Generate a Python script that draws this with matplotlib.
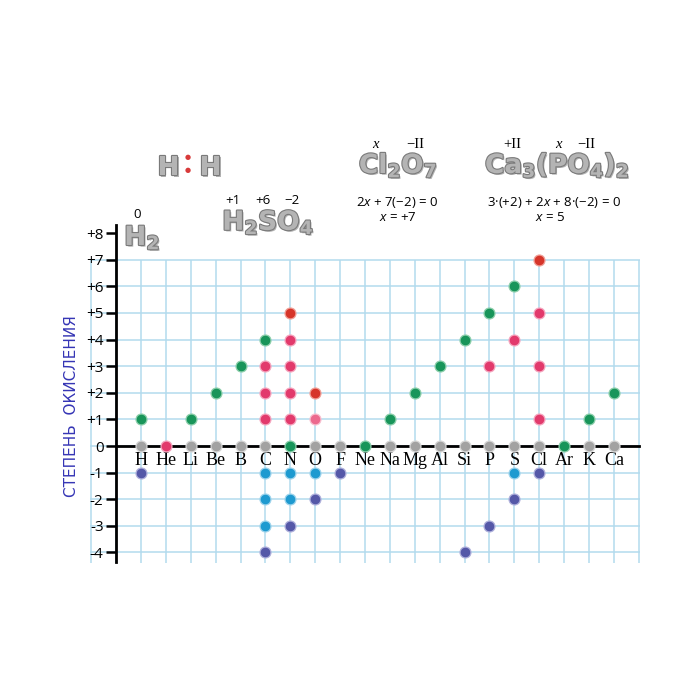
import matplotlib
matplotlib.use("Agg")
import matplotlib.pyplot as plt
import matplotlib.patheffects as pe

plt.rcParams["mathtext.fontset"] = "custom"
plt.rcParams["mathtext.rm"] = "Open Sans"
plt.rcParams["mathtext.it"] = "Open Sans:italic"
plt.rcParams["mathtext.bf"] = "DejaVu Sans:bold"

# элементы по оси X
elements = ["H", "He", "Li", "Be", "B", "C", "N", "O", "F", "Ne",
            "Na", "Mg", "Al", "Si", "P", "S", "Cl", "Ar", "K", "Ca"]
y_ticks = list(range(-4, 9))
y_tick_labels = [f"+{v}" if v > 0 else str(v) for v in y_ticks]

# степени окисления, сгруппированные по цвету точки
green_el = ["H", "Li", "Be", "B", "C", "N", "Ne", "Na", "Mg", "Al", "Si", "P", "S", "Ar", "K", "Ca"]
green_ox = [1, 1, 2, 3, 4, 0, 0, 1, 2, 3, 4, 5, 6, 0, 1, 2]
pink_el = ["He", "C", "C", "C", "N", "N", "N", "N", "P", "S", "Cl", "Cl", "Cl"]
pink_ox = [0, 3, 2, 1, 4, 3, 2, 1, 3, 4, 5, 3, 1]
red_el = ["N", "O", "Cl"]
red_ox = [5, 2, 7]
light_el = ["O"]
light_ox = [1]
cyan_el = ["C", "C", "C", "N", "N", "O", "S"]
cyan_ox = [-1, -2, -3, -1, -2, -1, -1]
purple_el = ["H", "C", "N", "O", "F", "Si", "P", "S", "Cl"]
purple_ox = [-1, -4, -3, -2, -1, -4, -3, -2, -1]
gray_el = ["H", "Li", "Be", "B", "C", "O", "F", "Na", "Mg", "Al", "Si", "P", "S", "Cl", "K", "Ca"]
gray_ox = [0] * len(gray_el)

groups = [
    (gray_el, gray_ox, "#a2a2a2", "#d8d8d8"),
    (green_el, green_ox, "#18955a", "#8fd0ad"),
    (pink_el, pink_ox, "#e23a6c", "#f5a8c0"),
    (red_el, red_ox, "#d6352a", "#f0a098"),
    (light_el, light_ox, "#ec6a8e", "#f8c0d0"),
    (cyan_el, cyan_ox, "#1e9ad0", "#9fd4ec"),
    (purple_el, purple_ox, "#5558a8", "#b0b2dc"),
]

W = H = 700
fig = plt.figure(figsize=(7, 7), dpi=100)
ax = fig.add_axes([0, 0, 1, 1])
ax.set_xlim(-141 / 24.89, (W - 141) / 24.89)
ax.set_ylim((446 - H) / 26.6, 446 / 26.6)

# сетка
grid_c = "#b3dbee"
ax.vlines(range(-2, 21), -4.38, 7, color=grid_c, lw=1.1, zorder=0)
ax.hlines(range(-4, 8), -2.05, 20.05, color=grid_c, lw=1.1, zorder=0)

for s in ["top", "right"]:
    ax.spines[s].set_visible(False)
ax.spines["left"].set_position(("data", -1))
ax.spines["left"].set_bounds(-4.35, 8.3)
ax.spines["left"].set_linewidth(2)
ax.spines["bottom"].set_position(("data", 0))
ax.spines["bottom"].set_bounds(-1, 20)
ax.spines["bottom"].set_linewidth(2)

ax.set_yticks(y_ticks, y_tick_labels)
ax.tick_params(axis="y", direction="out", length=7, width=1.8, pad=2,
               labelsize=11)
for t in ax.get_yticklabels():
    t.set_fontfamily("Open Sans")
ax.set_xticks(range(len(elements)), elements)
ax.tick_params(axis="x", length=0, pad=4, labelsize=13)
for t in ax.get_xticklabels():
    t.set_fontfamily("Liberation Serif")

idx = {e: i for i, e in enumerate(elements)}
for els, ox, fc, ec in groups:
    ax.scatter([idx[e] for e in els], ox, s=62, color=fc, edgecolors=ec,
               linewidths=0.9, zorder=3, clip_on=False)

fig.text(71 / W, 1 - 406 / H, "СТЕПЕНЬ  ОКИСЛЕНИЯ", rotation=90,
         ha="center", va="center", fontsize=11, color="#3535b5")


def px(x, y):
    return x / W, 1 - y / H


def chrome(x, y, s, size=19):
    # y - базовая линия
    fig.text(*px(x, y), s, fontsize=size, color="#b4b4b4", ha="center",
             va="baseline",
             path_effects=[pe.SimplePatchShadow(offset=(1.2, -1.2), shadow_rgbFace="#444444", alpha=0.4),
                           pe.withStroke(linewidth=1.6, foreground="#7a7a7a")])


chrome(168, 175, r"$\mathbf{H}$")
chrome(210, 175, r"$\mathbf{H}$")
for yy in (157, 170):
    fig.text(*px(188, yy), "\u25cf", fontsize=5, color="#d83a3a",
             ha="center", va="center")

chrome(142, 245, r"$\mathbf{H}_\mathbf{2}$")
fig.text(*px(137, 214), "0", fontsize=9.5, family="Open Sans", ha="center", va="center")

chrome(268, 230, r"$\mathbf{H}_\mathbf{2}\mathbf{SO}_\mathbf{4}$")
for x, s in [(233, "+1"), (263, "+6"), (292, "\u22122")]:
    fig.text(*px(x, 201), s, fontsize=9.5, family="Open Sans", ha="center", va="center")

chrome(398, 173, r"$\mathbf{Cl}_\mathbf{2}\mathbf{O}_\mathbf{7}$")
fig.text(*px(375, 144), "x", fontsize=10.5, family="Liberation Serif", style="italic",
         ha="center", va="center")
fig.text(*px(415, 144), "\u2212II", fontsize=10.5, family="Liberation Serif",
         ha="center", va="center")
fig.text(*px(397, 202), "2$x$ + 7(\u22122) = 0",
         fontsize=9.5, family="Open Sans", ha="center", va="center")
fig.text(*px(398, 217), r"$x$ = +7", fontsize=9.5, family="Open Sans",
         ha="center", va="center")

chrome(557, 173, r"$\mathbf{Ca}_\mathbf{3}\mathbf{(PO}_\mathbf{4}\mathbf{)}_\mathbf{2}$")
fig.text(*px(512, 144), "+II", fontsize=10.5, family="Liberation Serif",
         ha="center", va="center")
fig.text(*px(558, 144), "x", fontsize=10.5, family="Liberation Serif", style="italic",
         ha="center", va="center")
fig.text(*px(586, 144), "\u2212II", fontsize=10.5, family="Liberation Serif",
         ha="center", va="center")
fig.text(*px(554, 202), "3\u00b7(+2) + 2$x$ + 8\u00b7(\u22122) = 0",
         fontsize=9.5, family="Open Sans", ha="center", va="center")
fig.text(*px(550, 217), r"$x$ = 5", fontsize=9.5, family="Open Sans",
         ha="center", va="center")

fig.savefig("out.png", dpi=100)
